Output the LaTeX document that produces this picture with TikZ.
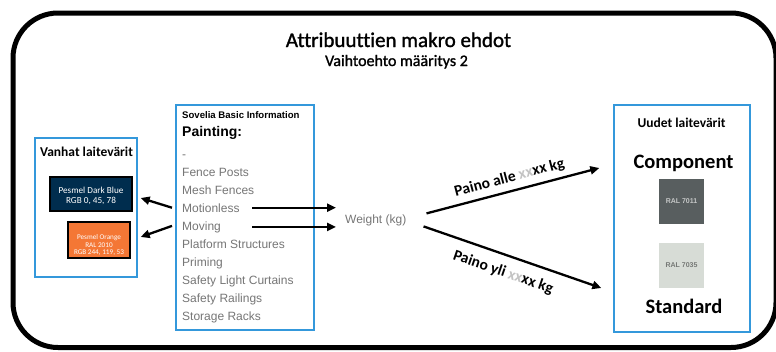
\documentclass[tikz,border=0pt]{standalone}
\usepackage{fontspec}
\setmainfont{Carlito}[Ligatures={NoCommon}]
\newfontfamily\titlefont{Carlito}[Ligatures={NoCommon},FakeBold=1.3]
\newfontfamily\arialf{Liberation Sans}
\usetikzlibrary{arrows.meta}
\definecolor{panelblue}{RGB}{52,152,219}
\definecolor{pesblue}{RGB}{0,45,78}
\definecolor{pesorange}{RGB}{244,119,53}
\definecolor{ralA}{RGB}{88,94,95}
\definecolor{ralB}{RGB}{215,220,214}
\definecolor{listgray}{RGB}{118,118,118}
\definecolor{xxgray}{RGB}{195,195,195}

\begin{document}
\begin{tikzpicture}[x=1pt,y=-1pt,
  panel/.style={draw=panelblue, line width=1.3pt, inner sep=0pt},
  swatch/.style={draw=black, line width=2.2pt, inner sep=0pt},
  swatchtext/.style={text=white, align=center, inner sep=0pt},
  ralbox/.style={inner sep=0pt, minimum width=45pt, minimum height=45pt,
    font=\arialf\bfseries\fontsize{7}{8}\selectfont},
  item/.style={anchor=base west, inner sep=0pt, text=listgray,
    font=\arialf\fontsize{12}{12}\selectfont},
  arr/.style={line width=2.3pt, -{Triangle[length=9pt,width=8pt]}},
  heading/.style={anchor=base, inner sep=0pt, font=\bfseries\fontsize{13.5}{14}\selectfont},
  big/.style={anchor=base, inner sep=0pt, font=\bfseries\fontsize{20.5}{21}\selectfont},
  weightlabel/.style={sloped, font=\bfseries\fontsize{15.5}{16}\selectfont}
]
\useasboundingbox (0,0) rectangle (776,351);
\fill[white] (0,0) rectangle (776,351);

% outer frame
\draw[line width=5pt, rounded corners=45pt] (13,13) rectangle (776,347.5);

% title
\node[anchor=base, inner sep=0pt, font=\titlefont\fontsize{21}{22}\selectfont] (title) at (398.5,47) {Attribuuttien makro ehdot};
\node[anchor=base, inner sep=0pt, font=\titlefont\fontsize{16}{17}\selectfont] (subtitle) at (396.5,66) {Vaihtoehto määritys 2};

% old colours
\node[panel, minimum width=102pt, minimum height=139pt] (oldbox) at (86,207.5) {};
\node[heading] (oldhead) at (86.5,156.5) {Vanhat laitevärit};
\node[swatch, fill=pesblue, minimum width=82pt, minimum height=34pt] (darkblue) at (91,194) {};
\node[swatchtext, font=\fontsize{9.2}{9.5}\selectfont] (darkbluetext) at ([yshift=-2pt]darkblue.center) {Pesmel Dark Blue\\RGB 0, 45, 78};
\node[swatch, fill=pesorange, minimum width=62pt, minimum height=36pt] (orange) at (99,240) {};
\node[swatchtext, font=\fontsize{7.2}{7.5}\selectfont] (orangetext) at ([yshift=-5pt]orange.center) {Pesmel Orange\\RAL 2010\\RGB 244, 119, 53};

% Sovelia list
\node[panel, minimum width=138pt, minimum height=225pt] (infobox) at (245,217.5) {};
\node[anchor=base west, inner sep=0pt, font=\arialf\bfseries\fontsize{9.6}{10}\selectfont] (sovelia) at (182,118) {Sovelia Basic Information};
\node[anchor=base west, inner sep=0pt, font=\arialf\bfseries\fontsize{14}{14}\selectfont] (painting) at (182,136.5) {Painting:};
\node[item] (dash) at (182,158) {-};
\node[item] (fence) at (182,176) {Fence Posts};
\node[item] (mesh) at (182,194) {Mesh Fences};
\node[item] (motionless) at (182,212) {Motionless};
\node[item] (moving) at (182,230) {Moving};
\node[item] (platform) at (182,248) {Platform Structures};
\node[item] (priming) at (182,266) {Priming};
\node[item] (curtains) at (182,284) {Safety Light Curtains};
\node[item] (railings) at (182,302) {Safety Railings};
\node[item] (racks) at (182,320) {Storage Racks};

% weight
\node[item] (weight) at (345,223.5) {Weight (kg)};

% new colours
\node[panel, minimum width=136pt, minimum height=227pt] (newbox) at (682,218.5) {};
\node[heading] (newhead) at (681.5,127.5) {Uudet laitevärit};
\node[big] (component) at (683.5,168) {Component};
\node[ralbox, fill=ralA, text=ralA!35!white] (ral7011) at (681.5,201.5) {RAL 7011};
\node[ralbox, fill=ralB, text=ralB!55!black] (ral7035) at (681.5,265.5) {RAL 7035};
\node[big] (standard) at (684,313) {Standard};

% connectors
\coordinate (split) at (252,0);
\coordinate (wtip) at ([xshift=-9pt]weight.west);
\draw[arr] (split |- motionless) -- (wtip |- motionless);
\draw[arr] (split |- moving) -- (wtip |- moving);
\draw[arr] ([xshift=-10pt]motionless.west) -- ([xshift=3pt,yshift=9.5pt]oldbox.east);
\draw[arr] ([xshift=-10pt,yshift=1pt]moving.west) -- ([xshift=3pt,yshift=-29.5pt]oldbox.east);
\draw[arr] ([xshift=20pt,yshift=7pt]weight.east) -- node[weightlabel, above, inner sep=5.5pt, pos=0.5] (lighter) {Paino alle \textcolor{xxgray}{xx}xx kg} ([xshift=-14pt,yshift=50.5pt]newbox.west);
\draw[arr] ([xshift=17pt,yshift=-6pt]weight.east) -- node[weightlabel, below, inner sep=9.5pt, pos=0.48] (heavier) {Paino yli \textcolor{xxgray}{xx}xx kg} ([xshift=-12pt,yshift=-69.5pt]newbox.west);
\end{tikzpicture}
\end{document}
